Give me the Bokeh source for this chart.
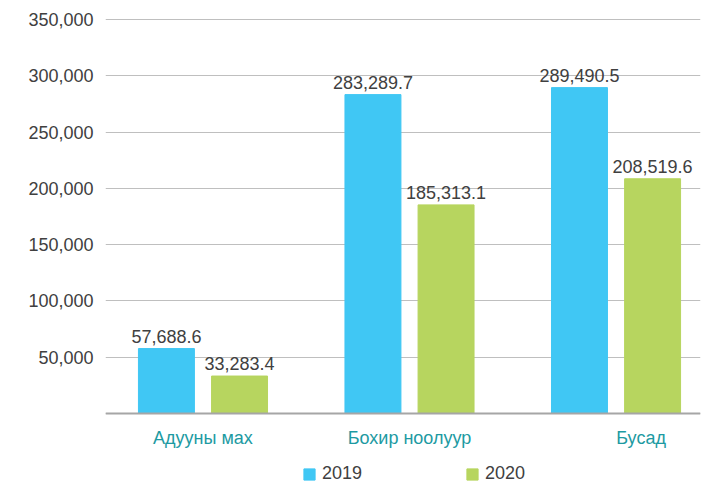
from bokeh.plotting import figure
from bokeh.models import (Range1d, ColumnDataSource, SingleIntervalTicker, Span,
                          NumeralTickFormatter, Legend, LegendItem)
from bokeh.transform import dodge
from bokeh.core.properties import value
from bokeh.embed import file_html
from bokeh.resources import INLINE

categories = ["Адууны мах", "Бохир ноолуур", "Бусад"]
values_2019 = [57688.6, 283289.7, 289490.5]
values_2020 = [33283.4, 185313.1, 208519.6]
series_names = ["2019", "2020"]
label_2019 = ["57,688.6", "283,289.7", "289,490.5"]
label_2020 = ["33,283.4", "185,313.1", "208,519.6"]
y_max = 350000

FONT = "Liberation Sans"
BLUE = "#40C7F4"
GREEN = "#B7D55F"
TEXT = "#404040"
TEAL = "#1D9AA2"

idx = list(range(len(categories)))
cat_shift_px = [0, 0, 25]  # the last category label sits a little right in the source
src = ColumnDataSource(dict(x=idx, cat=categories, v19=values_2019, v20=values_2020,
                            l19=label_2019, l20=label_2020, coff=cat_shift_px))

# frame extends below the value axis so labels/legend can be drawn inside it
px_per_val = 394 / y_max
below_px = 73
x_start, x_end = -0.472, 2.409
p = figure(frame_width=595, frame_height=468, output_backend="svg", toolbar_location=None,
           x_range=Range1d(x_start, x_end),
           y_range=Range1d(-below_px / px_per_val, y_max + 1 / px_per_val),
           min_border_left=105, min_border_right=5, min_border_top=18, min_border_bottom=0)

bw = 0.271
off = 0.177
r1 = p.vbar(x=dodge("x", -off), top="v19", width=bw, source=src, color=BLUE)
r2 = p.vbar(x=dodge("x", off), top="v20", width=bw, source=src, color=GREEN)

p.text(x=dodge("x", -off), y="v19", text="l19", source=src, text_align="center",
       text_baseline="bottom", y_offset=-6, text_font=value(FONT),
       text_font_size="18px", text_color=TEXT)
p.text(x=dodge("x", off), y="v20", text="l20", source=src, text_align="center",
       text_baseline="bottom", y_offset=-6, text_font=value(FONT),
       text_font_size="18px", text_color=TEXT)

# category labels under the baseline
p.text(x="x", y=0, text="cat", source=src, x_offset="coff", y_offset=24,
       text_align="center", text_baseline="middle", text_font=value(FONT),
       text_font_size="18px", text_color=TEAL)

# baseline (x axis line)
p.add_layout(Span(location=0, dimension="width", line_color="#A6A6A6", line_width=2))

# y axis
p.yaxis.bounds = (0, y_max)
p.yaxis.ticker = SingleIntervalTicker(interval=50000, num_minor_ticks=0)
p.yaxis.formatter = NumeralTickFormatter(format="0,0")
p.yaxis.major_label_overrides = {0: ""}
p.yaxis.axis_line_color = None
p.yaxis.major_tick_line_color = None
p.yaxis.major_tick_out = 0
p.yaxis.major_tick_in = 0
p.yaxis.minor_tick_line_color = None
p.yaxis.major_label_standoff = 12
p.yaxis.major_label_text_font = FONT
p.yaxis.major_label_text_font_size = "18px"
p.yaxis.major_label_text_color = TEXT

p.xaxis.visible = False
p.xgrid.grid_line_color = None
p.ygrid.grid_line_color = "#BFBFBF"
p.ygrid.bounds = (0, y_max)
p.ygrid.ticker = SingleIntervalTicker(interval=50000, num_minor_ticks=0)
p.outline_line_color = None

lg = Legend(items=[LegendItem(label=series_names[0], renderers=[r1]),
                   LegendItem(label=series_names[1], renderers=[r2])])
lg.orientation = "horizontal"
lg.location = (197, 2)
lg.padding = 0
lg.margin = 0
lg.spacing = 103
lg.border_line_color = None
lg.background_fill_alpha = 0
lg.glyph_width = 14
lg.glyph_height = 14
lg.label_height = 18
lg.label_standoff = 6
lg.label_text_font = FONT
lg.label_text_font_size = "18px"
lg.label_text_color = TEXT
p.add_layout(lg, "center")

open("out.html", "w").write(file_html(p, INLINE))
